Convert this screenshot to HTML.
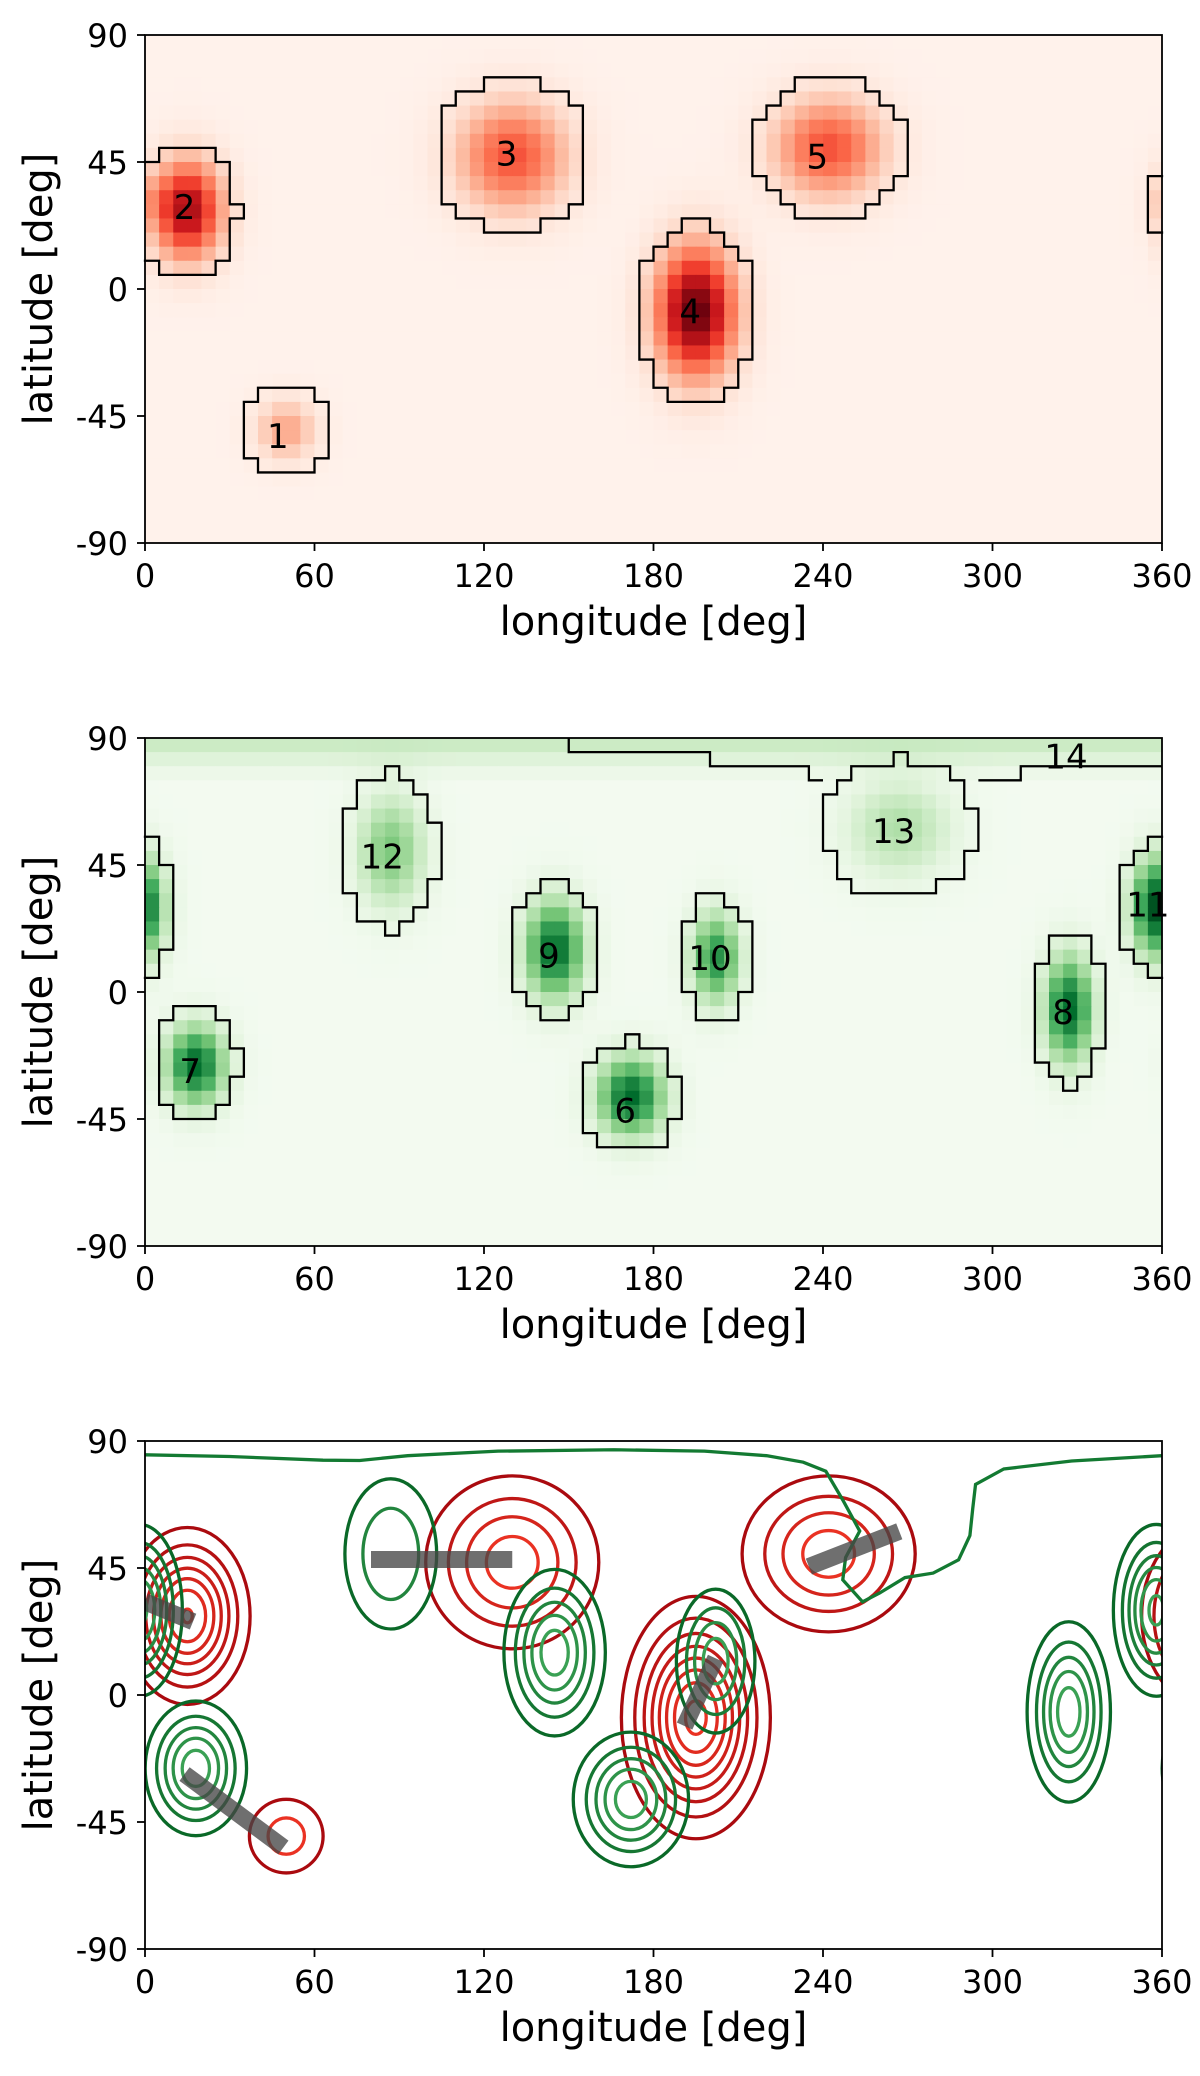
<!DOCTYPE html>
<html><head><meta charset="utf-8"><style>
html,body{margin:0;padding:0;background:#fff;}
svg{display:block;font-family:"DejaVu Sans","Liberation Sans",sans-serif;}
</style></head><body>
<svg id="fig" width="1200" height="2076" viewBox="0 0 1200 2076" xmlns="http://www.w3.org/2000/svg"></svg>
<script>
// ---- data ----
const xTicks=[0,60,120,180,240,300,360];
const yTicks=[90,45,0,-45,-90];
const yTickLabels=["90","45","0","-45","-90"];
// red (panel 1) blobs
const redLon=[50,15,130,195,242,362];
const redLat=[-50,28,47,-8,50,32];
const redSLon=[7.3,8.5,13.3,9.7,13.3,4];
const redSLat=[7.3,12,13.3,15.8,12,6];
const redAmp=[0.3,0.85,0.55,1.0,0.55,0.12];
const redLabels=["1","2","3","4","5"];
const redLabelLon=[47,14,128,193,238];
const redLabelLat=[-52,29,48,-8,47];
// green (panel 2) blobs: 6..13
const grnLon=[172,18,327,145,202,358,87,267];
const grnLat=[-37,-26,-6,15,12,30,50,58];
const grnSLon=[8.3,7.3,6,7.3,6,6,8.3,13];
const grnSLat=[9.7,9.7,13,12,11,12,13.6,12];
const grnAmp=[0.85,0.85,0.85,0.85,0.7,0.95,0.45,0.3];
const grnLabels=["6","7","8","9","10","11","12","13","14"];
const grnLabelLon=[170,16,325,143,200,355,84,265,326];
const grnLabelLat=[-42,-28,-7,13,12,31,48,57,83.5];
// polar cap rows (lat bands from 90 downward)
const capVals=[0.2,0.12,0.04];
const bgGreen=0.03;
const cap14A=[[150,90],[150,85],[200,85],[200,80],[235,80],[235,75],[240,75]];
const cap14B=[[295,75],[310,75],[310,80],[360,80]];
// panel 3
const topLineLon=[0,30,63,76,93,125,166,198,220,233,241,247,253,248,247,254,260,269,279,288,292,293,294,304,328,360];
const topLineLat=[85.1,84.5,83.2,83.1,84.8,86.4,86.9,86.4,84.8,82.5,79.3,69.1,58.1,48.7,40.8,33,36.1,41.6,43.2,47.9,56.5,66,74.6,80.1,82.9,84.8];
const barLon1=[0,80,235,191,14];
const barLat1=[33,48,45.5,-11,-28];
const barLon2=[17,130,267,202,49];
const barLat2=[26,48,58,13,-54];

// ---- geometry ----
const NS="http://www.w3.org/2000/svg";
const svg=document.getElementById('fig');
const X0=145,W=1017,H=508;
const tops=[35,738,1441];
function sx(lon){return X0+lon/360*W;}
function sy(lat,top){return top+(90-lat)/180*H;}
function mk(tag,attrs,parent){const e=document.createElementNS(NS,tag);for(const k in attrs)e.setAttribute(k,attrs[k]);(parent||svg).appendChild(e);return e;}
function hex(c){return [parseInt(c.slice(1,3),16),parseInt(c.slice(3,5),16),parseInt(c.slice(5,7),16)];}
const REDS=["#fff5f0","#fee0d2","#fcbba1","#fc9272","#fb6a4a","#ef3b2c","#cb181d","#a50f15","#67000d"].map(hex);
const GREENS=["#f7fcf5","#e5f5e0","#c7e9c0","#a1d99b","#74c476","#41ab5d","#238b45","#006d2c","#00441b"].map(hex);
function cmap(st,t){t=Math.max(0,Math.min(1,t));const p=t*(st.length-1);const i=Math.min(st.length-2,Math.floor(p));const f=p-i;
  const c=st[i].map((v,k)=>Math.round(v+(st[i+1][k]-v)*f));return `rgb(${c[0]},${c[1]},${c[2]})`;}
function dlon(a,b){let d=a-b;d=((d%360)+540)%360-180;return d;}
function g(lon,lat,L,La,sL,sLa){const dx=dlon(lon,L)/sL,dy=(lat-La)/sLa;return Math.exp(-0.5*(dx*dx+dy*dy));}

function axes(pi,top){
  const grp=mk('g',{});
  
  
  mk('rect',{x:X0,y:top,width:W,height:H,fill:'none',stroke:'#000','stroke-width':1.8},grp);
  xTicks.forEach(v=>{
    const x=sx(v);
    const t=mk('line',{x1:x,x2:x,y1:top+H,y2:top+H+8,stroke:'#000','stroke-width':1.8},grp);
    
    const tx=mk('text',{x:x,y:top+H+44,'font-size':32,'text-anchor':'middle',fill:'#000'},grp);
    tx.textContent=String(v);
    
  });
  yTicks.forEach((v,i)=>{
    const y=sy(v,top);
    const t=mk('line',{x1:X0-8,x2:X0,y1:y,y2:y,stroke:'#000','stroke-width':1.8},grp);
    
    const tx=mk('text',{x:X0-17,y:y+12,'font-size':32,'text-anchor':'end',fill:'#000'},grp);
    tx.textContent=yTickLabels[i];
    
  });
  const xl=mk('text',{x:X0+W/2,y:top+H+92,'font-size':40,'text-anchor':'middle',fill:'#000'},grp);
  xl.textContent='longitude [deg]';
  
  const yl=mk('text',{x:0,y:0,'font-size':40,'text-anchor':'middle',fill:'#000',transform:`translate(52,${top+H/2}) rotate(-90)`},grp);
  yl.textContent='latitude [deg]';
  
}

function heat(pi,top,L,La,sL,sLa,A,stops,extra,bg){
  const grp=mk('g',{});
  
  
  const cw=W/72,ch=H/36;const mask=[];
  for(let j=0;j<36;j++){mask.push([]);for(let i=0;i<72;i++){
    const lon=i*5+2.5,lat=90-j*5-2.5;let v=bg;let m=false;
    for(let b=0;b<L.length;b++){const gv=g(lon,lat,L[b],La[b],sL[b],sLa[b]);v+=A[b]*gv;if(gv>0.12)m=true;}
    if(extra&&j<extra.length)v+=extra[j];
    mask[j].push(m);
    const r=mk('rect',{x:X0+i*cw,y:top+j*ch,width:cw+0.6,height:ch+0.6,fill:cmap(stops,v)},grp);
    
  }}
  let d='';
  for(let j=0;j<36;j++)for(let i=0;i<72;i++){if(!mask[j][i])continue;
    const x=X0+i*cw,y=top+j*ch;
    if(j>0&&!mask[j-1][i])d+=`M${x},${y}H${x+cw}`;
    if(j<35&&!mask[j+1][i])d+=`M${x},${y+ch}H${x+cw}`;
    if(i>0&&!mask[j][i-1])d+=`M${x},${y}V${y+ch}`;
    if(i<71&&!mask[j][i+1])d+=`M${x+cw},${y}V${y+ch}`;}
  const o=mk('path',{d:d,fill:'none',stroke:'#000','stroke-width':2.3,'stroke-linecap':'square'});
  
}
function labels(top,txt,lon,lat,name){
  txt.forEach((t,i)=>{const e=mk('text',{x:sx(lon[i]),y:sy(lat[i],top)+12,'font-size':34,'text-anchor':'middle',fill:'#000'});
    e.textContent=t;});
}

// Panel 1
heat(0,tops[0],redLon,redLat,redSLon,redSLat,redAmp,REDS,null,0.02);
labels(tops[0],redLabels,redLabelLon,redLabelLat,'red-region');
axes(0,tops[0]);

// Panel 2
heat(1,tops[1],grnLon,grnLat,grnSLon,grnSLat,grnAmp,GREENS,capVals,bgGreen);
[cap14A,cap14B].forEach(pts=>{
  const p=mk('polyline',{points:pts.map(q=>sx(q[0])+','+sy(q[1],tops[1])).join(' '),fill:'none',stroke:'#000','stroke-width':2.3});
  
});
labels(tops[1],grnLabels,grnLabelLon,grnLabelLat,'green-region');
axes(1,tops[1]);

// Panel 3
const t3=tops[2];
const clip=mk('clipPath',{id:'c3'});
mk('rect',{x:X0,y:t3,width:W,height:H},clip);
const cg=mk('g',{'clip-path':'url(#c3)'});

function rings(L,La,sL,sLa,A,step,dark,light,name,count){
  for(let b=0;b<count;b++){
    const levels=[];for(let lv=step;lv<A[b];lv+=step)levels.push(lv);
    levels.forEach((lv,k)=>{
      const r=Math.sqrt(2*Math.log(A[b]/lv))*1.32;
      const f=levels.length>1?k/(levels.length-1):0;
      const c=dark.map((v,q)=>Math.round(v+(light[q]-v)*f*0.8));
      [-360,0,360].forEach(sh=>{
        const e=mk('ellipse',{cx:sx(L[b]+sh),cy:sy(La[b],t3),rx:sL[b]*r/360*W,ry:sLa[b]*r/180*H,fill:'none',stroke:`rgb(${c[0]},${c[1]},${c[2]})`,'stroke-width':3.3},cg);
        
      });
    });
  }
}
rings(redLon,redLat,redSLon,redSLat,redAmp,0.12,[170,10,15],[250,60,40],'red',5);
rings(grnLon,grnLat,grnSLon,grnSLat,grnAmp,0.15,[10,105,40],[70,175,95],'green',7);
const tl=mk('polyline',{points:topLineLon.map((v,i)=>sx(v)+','+sy(topLineLat[i],t3)).join(' '),fill:'none',stroke:'#137a32','stroke-width':3.3},cg);

barLon1.forEach((v,i)=>{
  const l=mk('line',{x1:sx(v),y1:sy(barLat1[i],t3),x2:sx(barLon2[i]),y2:sy(barLat2[i],t3),stroke:'rgba(70,70,70,0.78)','stroke-width':17},cg);
  
});
axes(2,t3);
</script>
</body></html>
